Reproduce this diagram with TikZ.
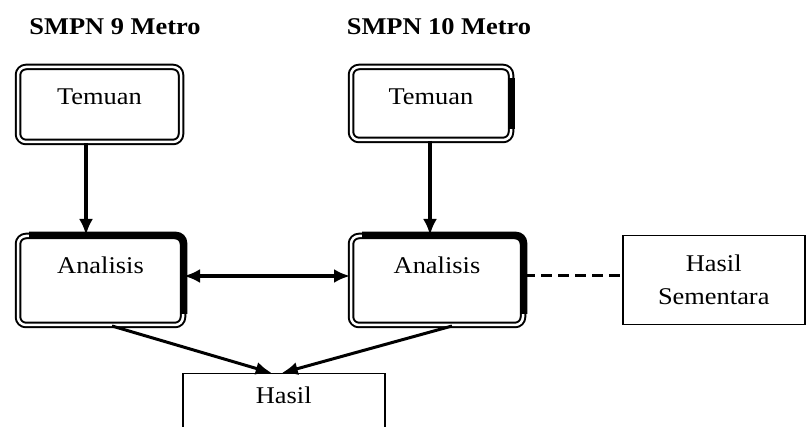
\documentclass[tikz,border=0pt]{standalone}
\usepackage{fontspec}
\setmainfont{Liberation Serif}[FakeStretch=1.1]
\usetikzlibrary{arrows.meta}

\tikzset{
  dbox/.style={draw, double, line width=2pt, double distance=2.5pt, rounded corners=8pt,
    anchor=north west, inner xsep=0pt, inner ysep=0pt, font=\fontsize{24}{28}\selectfont},
  solidside/.style={line width=6.5pt, rounded corners=8pt},
  plainbox/.style={draw, line width=1.5pt, anchor=north west, inner sep=0pt,
    font=\fontsize{24}{33}\selectfont, align=center},
  title/.style={font=\bfseries\fontsize{24}{28}\selectfont},
  arr/.style={line width=3.5pt, -{Latex[length=16pt,width=14pt]}},
}

\begin{document}
\begin{tikzpicture}[x=1pt, y=-1pt]
        \useasboundingbox (0,0) rectangle (806,427);
        \clip (0,0) rectangle (806,427);

        % School headings
        \node[title] (s9) at (115,27) {SMPN 9 Metro};
        \node[title] (s10) at (439,27) {SMPN 10 Metro};

        % Temuan boxes
        \node[dbox, minimum width=163pt, text height=38pt, text depth=37pt] (tem9) at (17,66) {Temuan};
        \node[dbox, minimum width=160pt, text height=38pt, text depth=35pt] (tem10) at (350,66) {Temuan};
        \draw[solidside] ([yshift=-12pt]tem10.north east) -- ([yshift=12pt]tem10.south east);

        % Analisis boxes
        \node[dbox, minimum width=165pt, text height=38pt, text depth=51pt] (an9) at (17,235) {Analisis};
        \node[dbox, minimum width=172pt, text height=38pt, text depth=51pt] (an10) at (350,235) {Analisis};
        \draw[solidside] ([xshift=12pt]an9.north west) -- (an9.north east) -- ([yshift=12pt]an9.south east);
        \draw[solidside] ([xshift=12pt]an10.north west) -- (an10.north east) -- ([yshift=12pt]an10.south east);

        % Result boxes
        \node[plainbox, minimum width=182pt, minimum height=89pt] (sem) at (622,235) {Hasil\\Sementara};
        \node[plainbox, minimum width=202pt, text height=30pt, text depth=60pt] (hasil) at (182,373) {Hasil};

        % Connectors
        \draw[arr] (tem9.south -| 86,0) -- (an9.north -| 86,0);
        \draw[arr] (tem10.south -| 430,0) -- (an10.north -| 430,0);
        \draw[line width=3.5pt, {Latex[length=16pt,width=14pt]}-{Latex[length=16pt,width=14pt]}]
          (an9.east |- 0,276) -- (an10.west |- 0,276);
        \draw[line width=3pt, dash pattern=on 11pt off 6pt] (an10.east |- 0,276) -- (sem.west |- 0,276);
        \draw[line width=3pt, -{Latex[length=16pt,width=13pt]}] (an9.south -| 112,0) -- ([xshift=-12pt]hasil.north);
        \draw[line width=3pt, -{Latex[length=16pt,width=13pt]}] (an10.south -| 452,0) -- ([xshift=-2pt]hasil.north);

\end{tikzpicture}
\end{document}
